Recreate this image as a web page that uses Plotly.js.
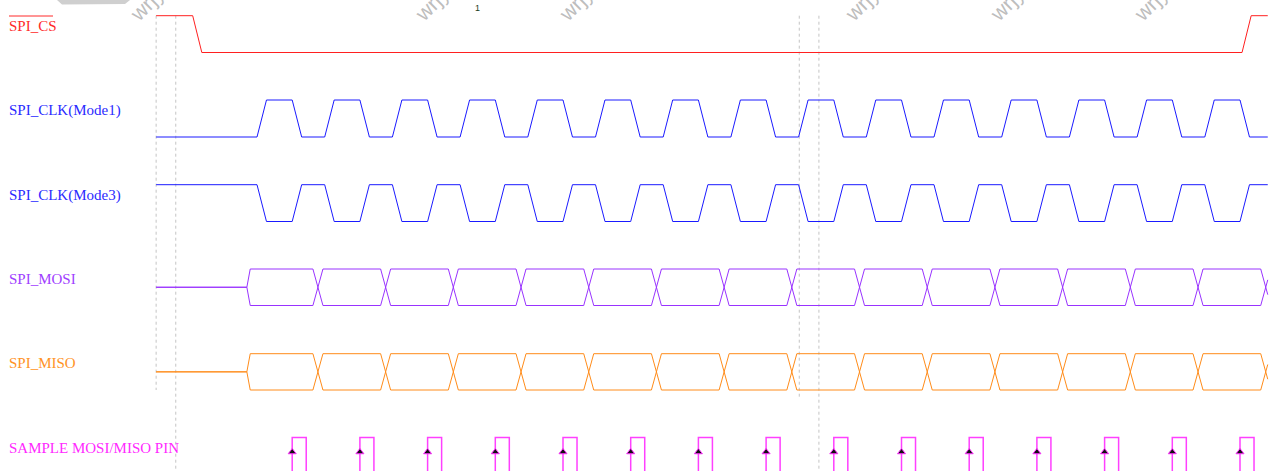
<!DOCTYPE html>
<html>
<head>
<meta charset="utf-8">
<script src="https://cdn.plot.ly/plotly-3.0.1.min.js"></script>
<style>html,body{margin:0;padding:0;background:#fff;}#chart{width:1280px;height:471px;}</style>
</head>
<body>
<div id="chart"></div>
<script>
// ---------------- DATA (time in clock periods, t=0 at first SCLK edge) ----------------
const signalNames = ['SPI_CS', 'SPI_CLK(Mode1)', 'SPI_CLK(Mode3)', 'SPI_MOSI', 'SPI_MISO', 'SAMPLE MOSI/MISO PIN'];
const traceStart = -1.49;
const traceEnd = 14.93;
const csEdges = [-0.95, 14.55];
const csLevels = [1, 0, 1];
const clkRises = [0, 1, 2, 3, 4, 5, 6, 7, 8, 9, 10, 11, 12, 13, 14];
const clkFalls = [0.52, 1.52, 2.52, 3.52, 4.52, 5.52, 6.52, 7.52, 8.52, 9.52, 10.52, 11.52, 12.52, 13.52, 14.52];
const busEdges = [-0.10, 0.90, 1.90, 2.90, 3.90, 4.90, 5.90, 6.90, 7.90, 8.90, 9.90, 10.90, 11.90, 12.90, 13.90, 14.90];
const sampleTimes = [0.52, 1.52, 2.52, 3.52, 4.52, 5.52, 6.52, 7.52, 8.52, 9.52, 10.52, 11.52, 12.52, 13.52, 14.52];
const cursorTimes = [-1.49, -1.20, 8.01, 8.30];
const cursorLong = [false, true, false, true];
const markerLabel = '1';
const watermarkText = 'wrjy.blog';

// ---------------- LAYOUT / STYLE ----------------
const W = 1280, H = 471;
const X0PX = 257, PXPER = 67.7;
const xRange = [-X0PX / PXPER, (W - X0PX) / PXPER];
const rows = {
  cs:   {hi: 15.7, lo: 52.5},
  clk1: {hi: 100, lo: 137},
  clk3: {hi: 184.7, lo: 221.5},
  mosi: {hi: 269, lo: 305.5},
  miso: {hi: 353.7, lo: 390},
  samp: {hi: 437.5, lo: 478}
};
const labelY = [26, 110, 195, 279, 363, 448];
const labelColors = ['#ff2a2a', '#2a2aff', '#2a2aff', '#a040ff', '#ff9326', '#ff2aff'];
const slewClk = 0.14, slewCs = 0.135, busHalf = 0.074, busFirst = 0.05, pinW = 0.207;

function clip(xs, ys, xe) {
  const ox = [], oy = [];
  for (let i = 0; i < xs.length; i++) {
    if (xs[i] <= xe) { ox.push(xs[i]); oy.push(ys[i]); }
    else {
      if (i > 0 && xs[i - 1] < xe) {
        const f = (xe - xs[i - 1]) / (xs[i] - xs[i - 1]);
        ox.push(xe); oy.push(ys[i - 1] + f * (ys[i] - ys[i - 1]));
      }
      break;
    }
  }
  return {x: ox, y: oy};
}

function digital(edges, levels, slew, row) {
  const lv = l => l ? row.hi : row.lo;
  const xs = [traceStart], ys = [lv(levels[0])];
  edges.forEach((e, i) => {
    xs.push(e); ys.push(lv(levels[i]));
    xs.push(e + slew); ys.push(lv(levels[i + 1]));
  });
  xs.push(traceEnd); ys.push(lv(levels[levels.length - 1]));
  return clip(xs, ys, traceEnd);
}

function clockEdges(idle) {
  const edges = [], levels = [idle];
  let lvl = idle;
  const all = clkRises.concat(clkFalls).sort((a, b) => a - b);
  all.forEach(e => { edges.push(e); lvl = 1 - lvl; levels.push(lvl); });
  return {edges, levels};
}

function bus(row) {
  const mid = (row.hi + row.lo) / 2;
  const ax = [traceStart], ay = [mid], bx = [traceStart], by = [mid];
  let aTop = true;
  busEdges.forEach((e, i) => {
    if (i === 0) {
      ax.push(e - busFirst, e); ay.push(mid, row.hi);
      bx.push(e - busFirst, e); by.push(mid, row.lo);
    } else {
      const a1 = aTop ? row.hi : row.lo, a2 = aTop ? row.lo : row.hi;
      ax.push(e - busHalf, e + busHalf); ay.push(a1, a2);
      bx.push(e - busHalf, e + busHalf); by.push(a2, a1);
      aTop = !aTop;
    }
  });
  ax.push(traceEnd + 1); ay.push(aTop ? row.hi : row.lo);
  bx.push(traceEnd + 1); by.push(aTop ? row.lo : row.hi);
  return [clip(ax, ay, traceEnd), clip(bx, by, traceEnd)];
}

const traces = [];
function line(p, color, width, dash) {
  traces.push({x: p.x, y: p.y, type: 'scatter', mode: 'lines', hoverinfo: 'skip',
    line: {color: color, width: width || 1, dash: dash || 'solid', shape: 'linear'}});
}

// cursors
cursorTimes.forEach((t, i) => {
  line({x: [t, t], y: [rows.cs.hi, cursorLong[i] ? H + 5 : (i < 2 ? rows.miso.lo : 397)]}, '#c4c4c4', 1, '3px,3px');
});

// CS
line(digital(csEdges, csLevels, slewCs, rows.cs), '#ff2020', 1);
// clocks
const c1 = clockEdges(0), c3 = clockEdges(1);
line(digital(c1.edges, c1.levels, slewClk, rows.clk1), '#1a1aff', 1);
line(digital(c3.edges, c3.levels, slewClk, rows.clk3), '#1a1aff', 1);
// buses
bus(rows.mosi).forEach(p => line(p, '#9933ff', 1));
bus(rows.miso).forEach(p => line(p, '#ff8c1a', 1));
// sample pins
const px = [], py = [];
sampleTimes.forEach(t => {
  px.push(t, t, t + pinW, t + pinW, null);
  py.push(rows.samp.lo, rows.samp.hi, rows.samp.hi, rows.samp.lo, null);
});
line({x: px, y: py}, '#ff40ff', 1.5);
traces.push({x: sampleTimes, y: sampleTimes.map(() => 452), type: 'scatter', mode: 'markers', hoverinfo: 'skip',
  marker: {symbol: 'triangle-up', size: 7, color: '#111', line: {color: '#ff33ff', width: 1}}});

// annotations
const ann = [];
signalNames.forEach((n, i) => {
  ann.push({text: n, xref: 'paper', yref: 'y', x: 7 / W, y: labelY[i], xanchor: 'left', yanchor: 'middle',
    showarrow: false, font: {family: 'Liberation Serif, DejaVu Serif, serif', size: 15, color: labelColors[i]}});
});
ann.push({text: markerLabel, xref: 'paper', yref: 'paper', x: 477 / W, y: 1 - 8 / H, xanchor: 'center', yanchor: 'middle',
  showarrow: false, font: {family: 'Liberation Sans, Arial, sans-serif', size: 9, color: '#1d3d1d'}});
const wmStarts = [143, 428, 572, 858, 1003, 1147];
wmStarts.forEach(sx => {
  const cx = sx + 19, cy = -12;
  ann.push({text: watermarkText, xref: 'paper', yref: 'paper', x: cx / W, y: 1 - cy / H, xanchor: 'center', yanchor: 'middle',
    textangle: -45, showarrow: false, font: {family: 'Liberation Sans, Arial, sans-serif', size: 21, color: '#bdbdbd'}});
});

const shapes = [
  {type: 'line', xref: 'paper', yref: 'paper', x0: 9 / W, x1: 53 / W, y0: 1 - 16 / H, y1: 1 - 16 / H,
    line: {color: '#ff2a2a', width: 1}},
  {type: 'path', xref: 'paper', yref: 'paper',
    path: `M ${57 / W} 1 L ${62 / W} ${1 - 4.5 / H} L ${125 / W} ${1 - 4 / H} L ${130 / W} 1 Z`,
    fillcolor: '#cfcfcf', line: {width: 0}}
];

const layout = {
  width: W, height: H, margin: {l: 0, r: 0, t: 0, b: 0, pad: 0},
  paper_bgcolor: '#ffffff', plot_bgcolor: '#ffffff', showlegend: false,
  xaxis: {range: xRange, visible: false, fixedrange: true},
  yaxis: {range: [H, 0], visible: false, fixedrange: true},
  annotations: ann, shapes: shapes
};
Plotly.newPlot('chart', traces, layout, {displayModeBar: false, staticPlot: true});
</script>
</body>
</html>
